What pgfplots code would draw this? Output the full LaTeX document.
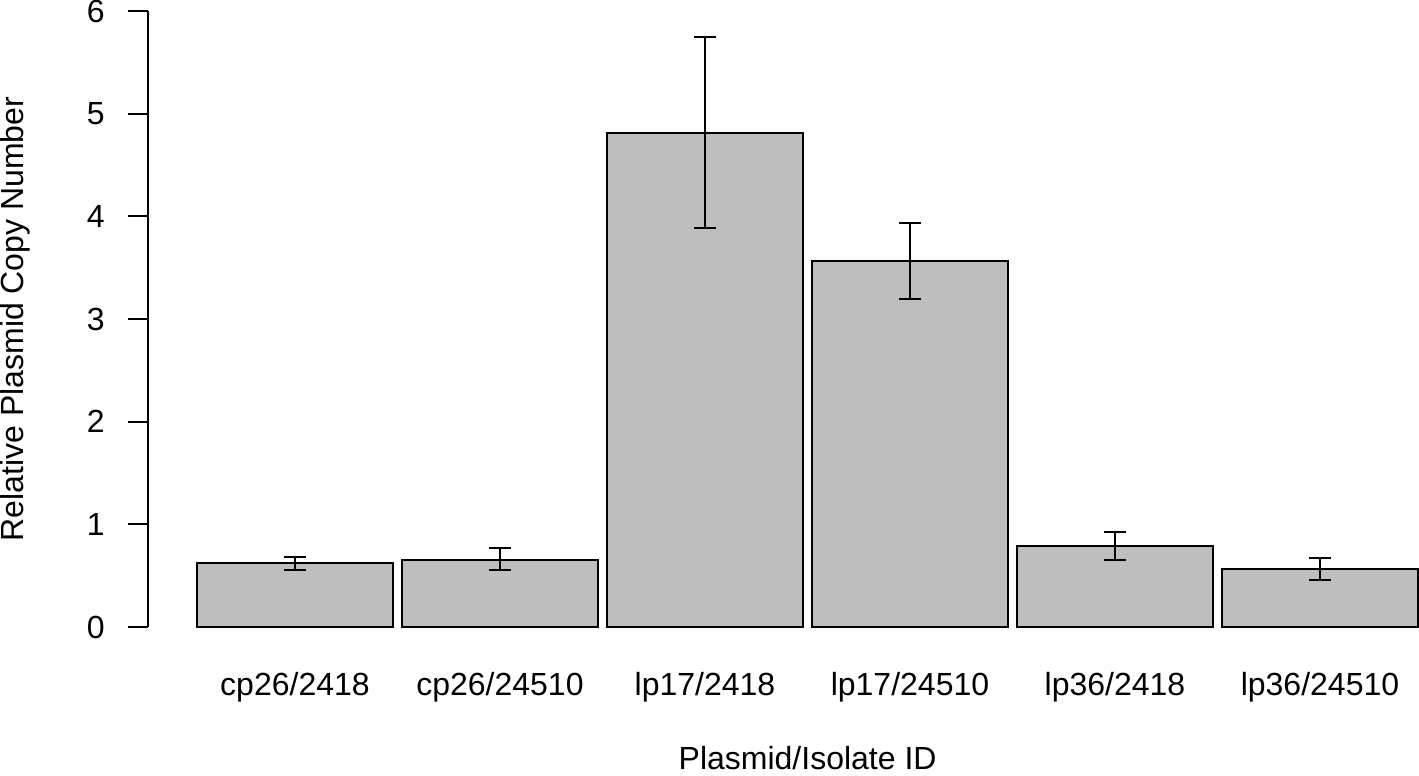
\documentclass[border=0pt]{standalone}
\usepackage{pgfplots}
\pgfplotsset{compat=1.18}
\usepackage{fontspec}
\setmainfont{Liberation Sans}
\definecolor{barfill}{HTML}{BEBEBE}

\begin{document}
\begin{tikzpicture}
\fontsize{16}{19}\selectfont
\begin{axis}[
    scale only axis,
    width=635.5pt, height=308pt,
    xmin=-0.717, xmax=5.483,
    ymin=0, ymax=6,
    axis x line=none,
    axis y line*=left,
    y axis line style={line width=1pt, -},
    ytick={0,1,2,3,4,5,6},
    tick align=outside,
    major tick length=10pt,
    ytick style={line width=1pt, black},
    /pgf/number format/assume math mode=true,
    tick label style={font=\fontsize{16}{19}\selectfont},
    yticklabel style={inner sep=0pt, xshift=-11.5pt},
    ylabel={Relative Plasmid Copy Number},
    ylabel style={at={(axis description cs:-0.0976,0.5)}, anchor=base, rotate=0, font=\fontsize{16}{19}\selectfont},
    clip=false,
]
% measured means with upper / lower error from the figure
\addplot[ybar, bar width=0.956, fill=barfill, draw=black, line width=1pt,
    error bars/.cd, y dir=both, y explicit,
    error mark options={rotate=90, mark size=5.4pt, line width=1pt, black},
    error bar style={line width=1pt, black}]
  table[x=x, y=y, y error plus=ep, y error minus=em] {
  x y     ep    em
  0 0.626 0.053 0.068
  1 0.655 0.111 0.103
  2 4.807 0.935 0.925
  3 3.564 0.367 0.367
  4 0.792 0.130 0.143
  5 0.565 0.107 0.107
};
% category labels under the bars
\foreach \i/\lab in {0/cp26\slash 2418, 1/cp26\slash 24510, 2/lp17\slash 2418, 3/lp17\slash 24510, 4/lp36\slash 2418, 5/lp36\slash 24510}{
  \edef\temp{\noexpand\node[anchor=base, inner sep=0pt] at (axis cs:\i,0) [yshift=-34.3pt] {\lab};}
  \temp
}
\node[anchor=base, inner sep=0pt] at (axis description cs:0.519,0) [yshift=-71pt] {Plasmid/Isolate ID};
\end{axis}
\pgfresetboundingbox
\path[use as bounding box] (-74pt,-74.5pt) rectangle (635.5pt,313.5pt);
\end{tikzpicture}
\end{document}
